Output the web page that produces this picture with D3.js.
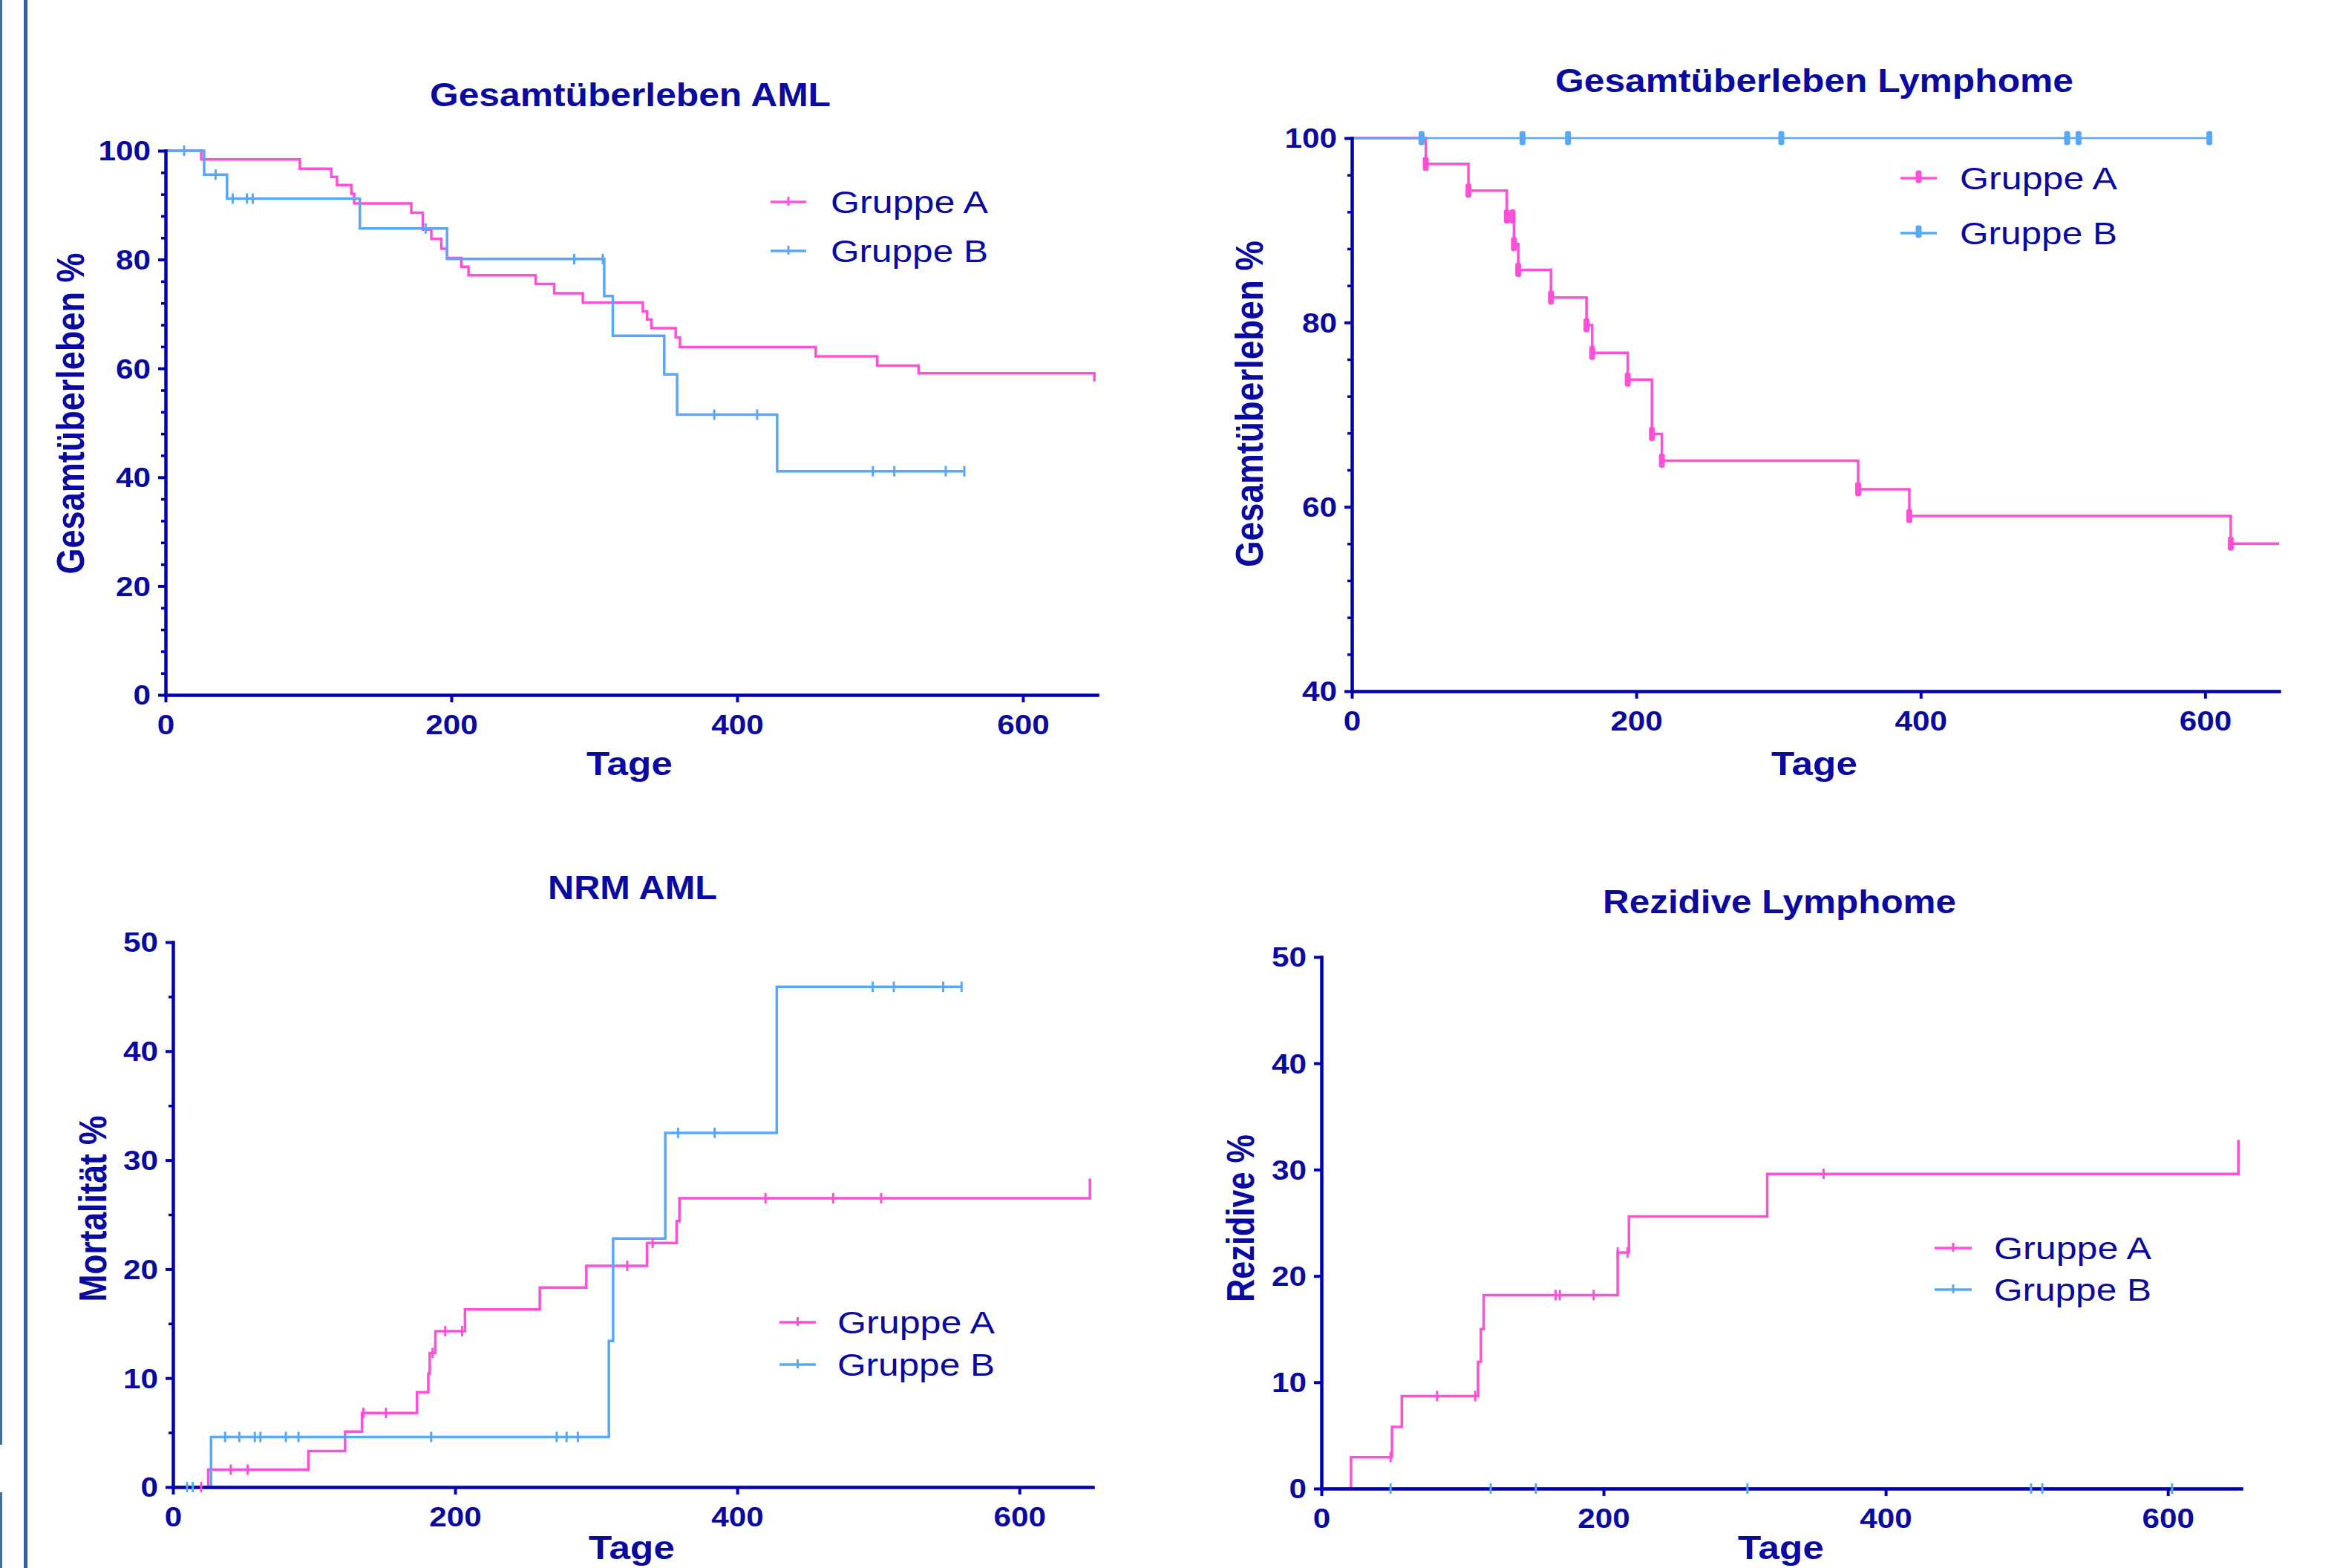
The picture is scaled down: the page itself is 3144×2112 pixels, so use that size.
<!DOCTYPE html>
<html>
<head>
<meta charset="utf-8">
<script src="https://cdn.jsdelivr.net/npm/d3@7"></script>
<style>
  html, body { margin: 0; padding: 0; background: #fff; }
  svg { display: block; }
</style>
</head>
<body>
<svg id="chart" width="3144" height="2112"></svg>
<script>
// ---- data ----
const groupNames = ['Gruppe A', 'Gruppe B'];
const titles = ['Gesamtüberleben AML', 'Gesamtüberleben Lymphome', 'NRM AML', 'Rezidive Lymphome'];
const yLabels = ['Gesamtüberleben %', 'Gesamtüberleben %', 'Mortalität %', 'Rezidive %'];
const xLabel = 'Tage';
const xTicks = [0, 200, 400, 600];
const osAmlTicks = [0, 20, 40, 60, 80, 100];
const osLymTicks = [40, 60, 80, 100];
const cumTicks = [0, 10, 20, 30, 40, 50];

// [day, value after the step]
const osAmlA = [[0, 100], [25, 98.4], [94, 96.7], [116, 95.2], [120, 93.7], [130, 92.1], [132, 90.3],
  [172, 88.6], [180, 85.5], [186, 83.8], [193, 82.0], [197, 80.3], [207, 78.7], [212, 77.1],
  [259, 75.5], [272, 73.8], [292, 72.1], [334, 70.5], [337, 69.0], [340, 67.4], [357, 65.7],
  [360, 63.9], [455, 62.2], [498, 60.5], [527, 59.1], [650, 57.6]];
const osAmlAEnd = 650;
const osAmlACens = [];
const osAmlB = [[0, 100], [27, 95.6], [43, 91.2], [136, 85.7], [197, 80.1], [307, 73.3], [313, 66.0],
  [349, 58.9], [358, 51.5], [428, 41.1]];
const osAmlBEnd = 559;
const osAmlBCens = [13, 35, 47, 57, 61, 182, 286, 306, 384, 414, 495, 510, 546, 559];

const osLymA = [[0, 100], [52, 97.2], [82, 94.3], [109, 91.5], [114, 88.5], [117, 85.7], [140, 82.7],
  [165, 79.7], [169, 76.7], [194, 73.8], [211, 67.9], [218, 65.0], [356, 61.9], [392, 59.0], [618, 56.0]];
const osLymAEnd = 652;
const osLymACens = [52, 82, 109, 113, 114, 117, 140, 165, 169, 194, 211, 218, 356, 392, 618];
const osLymB = [[0, 100]];
const osLymBEnd = 603;
const osLymBCens = [49, 120, 152, 302, 503, 511, 603];

const nrmA = [[0, 0], [25, 1.6], [96, 3.3], [122, 5.1], [134, 6.8], [173, 8.7], [181, 10.4], [182, 12.3],
  [186, 14.3], [207, 16.3], [260, 18.3], [293, 20.3], [336, 22.4], [357, 24.4], [359, 26.5], [650, 28.3]];
const nrmAEnd = 650;
const nrmACens = [20, 41, 53, 135, 151, 184, 193, 205, 322, 340, 420, 468, 502];
const nrmB = [[0, 0], [27, 4.6], [309, 13.4], [312, 22.8], [349, 32.5], [428, 45.9]];
const nrmBEnd = 559;
const nrmBCens = [10, 14, 37, 47, 58, 62, 80, 89, 183, 272, 279, 287, 358, 384, 496, 511, 546, 559];

const relA = [[0, 0], [21, 2.95], [50, 5.8], [57, 8.7], [111, 11.9], [113, 15.0], [115, 18.2],
  [210, 22.2], [218, 25.6], [316, 29.6], [650, 32.8]];
const relAEnd = 650;
const relACens = [49, 82, 109, 166, 169, 193, 210, 217, 356];
const relB = [[0, 0]];
const relBEnd = 603;
const relBCens = [49, 120, 152, 302, 503, 511, 603];

// ---- look ----
const W = 3144, H = 2112;
const FONT = '"Liberation Sans", Arial, Helvetica, sans-serif';
const NAVY = '#0000b0';
const TEXT = '#0a0aa0';
const PINK = '#ff4fd8';
const BLUE = '#58a8f8';
const STRETCH = 1.15;   // the original picture is stretched sideways

const thin = {w: 3, h: 14, rx: 0};
const bold = {w: 8, h: 19, rx: 3};

const panels = [
  {
    title: titles[0], yLabel: yLabels[0], yDomain: [0, 100], yMajor: osAmlTicks, yMinorStep: 4,
    series: [
      {steps: osAmlA, end: osAmlAEnd, cens: osAmlACens, color: PINK, width: 3.5},
      {steps: osAmlB, end: osAmlBEnd, cens: osAmlBCens, color: BLUE, width: 3.5}
    ],
    box: {x0: 223, x1: 1478, yTop: 203, yBot: 936},
    titlePos: [849, 143, 540], xLabelPos: [848, 1044], yLabelPos: [113, 557, 433],
    legend: {x0: 1038, x1: 1086, tx: 1119, ys: [272, 338]}, mark: thin
  },
  {
    title: titles[1], yLabel: yLabels[1], yDomain: [40, 100], yMajor: osLymTicks, yMinorStep: 4,
    series: [
      {steps: osLymA, end: osLymAEnd, cens: osLymACens, color: PINK, width: 3.5},
      {steps: osLymB, end: osLymBEnd, cens: osLymBCens, color: BLUE, width: 2.5}
    ],
    box: {x0: 1821, x1: 3070, yTop: 186, yBot: 931},
    titlePos: [2444, 124, 698], xLabelPos: [2444, 1044], yLabelPos: [1701, 544, 440],
    legend: {x0: 2560, x1: 2609, tx: 2640, ys: [240, 314]}, mark: bold
  },
  {
    title: titles[2], yLabel: yLabels[2], yDomain: [0, 50], yMajor: cumTicks, yMinorStep: 5,
    series: [
      {steps: nrmA, end: nrmAEnd, cens: nrmACens, color: PINK, width: 3.5},
      {steps: nrmB, end: nrmBEnd, cens: nrmBCens, color: BLUE, width: 3.5}
    ],
    box: {x0: 233, x1: 1472, yTop: 1269, yBot: 2003},
    titlePos: [852, 1211, 228], xLabelPos: [851, 2100], yLabelPos: [143, 1628, 251],
    legend: {x0: 1050, x1: 1099, tx: 1128, ys: [1781, 1838]}, mark: thin
  },
  {
    title: titles[3], yLabel: yLabels[3], yDomain: [0, 50], yMajor: cumTicks, yMinorStep: 0,
    series: [
      {steps: relA, end: relAEnd, cens: relACens, color: PINK, width: 3.5},
      {steps: relB, end: relBEnd, cens: relBCens, color: BLUE, width: 3.5}
    ],
    box: {x0: 1780, x1: 3019, yTop: 1289, yBot: 2005},
    titlePos: [2397, 1230, 476], xLabelPos: [2399, 2100], yLabelPos: [1689, 1641, 226],
    legend: {x0: 2606, x1: 2656, tx: 2686, ys: [1681, 1737]}, mark: thin
  }
];

const svg = d3.select('#chart');
svg.append('rect').attr('width', W).attr('height', H).attr('fill', '#fff');

// Slide border remnants on the left edge
svg.append('rect').attr('x', 32).attr('y', 0).attr('width', 5).attr('height', H).attr('fill', '#3b5f8f');
svg.append('rect').attr('x', 0).attr('y', 0).attr('width', 3).attr('height', 1946).attr('fill', '#4a6e9a');
svg.append('rect').attr('x', 0).attr('y', 2010).attr('width', 3).attr('height', H - 2010).attr('fill', '#4a6e9a');

// Value of a step function at day t
function stepValue(steps, t) {
  let v = steps[0][1];
  for (const [d, val] of steps) if (d <= t) v = val;
  return v;
}

// Text squeezed into a measured length
function addText(g, str, o) {
  const t = g.append('text')
    .attr('font-family', FONT)
    .attr('font-size', o.size)
    .attr('font-weight', o.bold ? 'bold' : 'normal')
    .attr('fill', TEXT)
    .attr('textLength', o.len)
    .attr('lengthAdjust', 'spacingAndGlyphs')
    .text(str);
  if (o.rotate) {
    t.attr('x', -o.len / 2)
      .attr('transform', `translate(${o.x},${o.y}) rotate(-90) scale(1,${STRETCH})`);
  } else {
    t.attr('x', o.anchor === 'middle' ? o.x - o.len / 2 : o.x).attr('y', o.y);
  }
  return t;
}

function drawPanel(p) {
  const b = p.box;
  const g = svg.append('g');

  const x = d3.scaleLinear().domain([0, 652]).range([b.x0, b.x1]);
  const y = d3.scaleLinear().domain(p.yDomain).range([b.yBot, b.yTop]);

  const line = d3.line()
    .x(d => x(d[0]))
    .y(d => y(d[1]))
    .curve(d3.curveStepAfter);

  // Survival / incidence curves
  p.series.forEach(s => {
    const pts = s.steps.slice();
    const last = pts[pts.length - 1];
    if (last[0] < s.end) pts.push([s.end, last[1]]);
    g.append('path')
      .attr('d', line(pts))
      .attr('fill', 'none')
      .attr('stroke', s.color)
      .attr('stroke-width', s.width);
  });

  // Axes
  const gx = g.append('g')
    .attr('transform', `translate(0,${b.yBot})`)
    .call(d3.axisBottom(x).tickValues(xTicks).tickSize(10).tickSizeOuter(0));
  const gy = g.append('g')
    .attr('transform', `translate(${b.x0},0)`)
    .call(d3.axisLeft(y).tickValues(p.yMajor).tickSize(10).tickPadding(10).tickSizeOuter(0));

  if (p.yMinorStep) {
    const minor = d3.range(p.yDomain[0], p.yDomain[1], p.yMinorStep).filter(v => !p.yMajor.includes(v));
    g.append('g')
      .attr('transform', `translate(${b.x0},0)`)
      .call(d3.axisLeft(y).tickValues(minor).tickSize(6).tickFormat(''))
      .call(a => a.select('.domain').remove())
      .selectAll('line').attr('stroke', NAVY).attr('stroke-width', 3.5);
  }

  [gx, gy].forEach(a => {
    a.select('.domain').attr('stroke', NAVY).attr('stroke-width', 4.5).attr('stroke-linecap', 'square');
    a.selectAll('.tick line').attr('stroke', NAVY).attr('stroke-width', 4);
    a.selectAll('.tick text')
      .attr('font-family', FONT)
      .attr('font-size', 36)
      .attr('font-weight', 'bold')
      .attr('fill', TEXT)
      .attr('textLength', d => String(d).length * 23.5)
      .attr('lengthAdjust', 'spacingAndGlyphs');
  });
  gx.selectAll('.tick text').attr('y', 53).attr('dy', null);
  gy.selectAll('.tick text').attr('dy', '0.36em');

  // Censoring marks
  p.series.forEach(s => {
    g.append('g').selectAll('rect')
      .data(s.cens)
      .join('rect')
      .attr('x', d => x(d) - p.mark.w / 2)
      .attr('y', d => y(stepValue(s.steps, d)) - p.mark.h / 2)
      .attr('width', p.mark.w)
      .attr('height', p.mark.h)
      .attr('rx', p.mark.rx)
      .attr('fill', s.color);
  });

  // Titles
  addText(g, p.title, {x: p.titlePos[0], y: p.titlePos[1], len: p.titlePos[2], size: 44, bold: true, anchor: 'middle'});
  addText(g, xLabel, {x: p.xLabelPos[0], y: p.xLabelPos[1], len: 116, size: 45, bold: true, anchor: 'middle'});
  addText(g, p.yLabel, {x: p.yLabelPos[0], y: p.yLabelPos[1], len: p.yLabelPos[2], size: 45, bold: true, rotate: true});

  // Legend
  const L = p.legend;
  p.series.forEach((s, i) => {
    const ly = L.ys[i];
    g.append('line')
      .attr('x1', L.x0).attr('x2', L.x1).attr('y1', ly).attr('y2', ly)
      .attr('stroke', s.color).attr('stroke-width', 3.5);
    g.append('rect')
      .attr('x', (L.x0 + L.x1) / 2 - p.mark.w / 2)
      .attr('y', ly - p.mark.h / 2 + (p.mark === bold ? -1 : 0))
      .attr('width', p.mark.w)
      .attr('height', p.mark.h - 2)
      .attr('rx', p.mark.rx)
      .attr('fill', s.color);
    addText(g, groupNames[i], {x: L.tx, y: ly + 15, len: 212, size: 42});
  });
}

panels.forEach(drawPanel);
</script>
</body>
</html>
